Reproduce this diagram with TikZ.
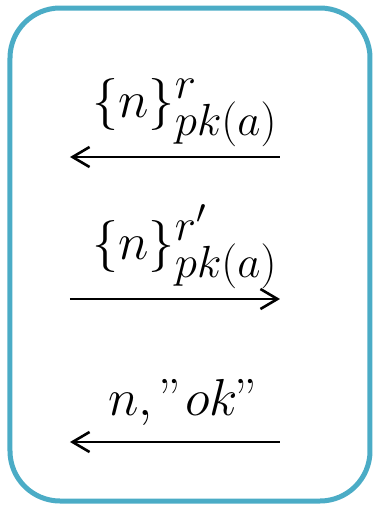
\RequirePackage{fix-cm}
\documentclass[tikz,border=0pt]{standalone}
\usepackage{xcolor}
\usepackage{tikz}
\usetikzlibrary{arrows.meta,positioning}
\definecolor{framecol}{HTML}{4BACC6}
\DeclareMathSizes{26}{26}{22.5}{17}

\begin{document}
\begin{tikzpicture}[x=0.5pt,y=-0.5pt,
    msg/.style={line width=1.3pt,-{Straight Barb[length=8.5pt,width=10pt,line width=1.3pt]}},
    lbl/.style={anchor=base,inner sep=0pt,font=\fontsize{26}{30}\selectfont}]
    \useasboundingbox (0,0) rectangle (374,505);
    % Frame
    \draw[framecol,line width=2.5pt,rounded corners=25pt] (10,8) rectangle (370,501);

    % Message end points
    \coordinate (s1) at (280,157); \coordinate (t1) at (70,157);
    \coordinate (s2) at (70,299);  \coordinate (t2) at (280,299);
    \coordinate (s3) at (280,442); \coordinate (t3) at (70,442);

    % Messages
    \draw[msg] (s1) -- (t1);
    \node[lbl] (m1) at (185,117) {$\{n\}^{r}_{pk(a)}$};

    \draw[msg] (s2) -- (t2);
    \node[lbl] (m2) at (185,259) {$\{n\}^{r'}_{pk(a)}$};

    \draw[msg] (s3) -- (t3);
    \node[lbl] (m3) at (185,415) {$n,"ok"$};
\end{tikzpicture}
\end{document}
